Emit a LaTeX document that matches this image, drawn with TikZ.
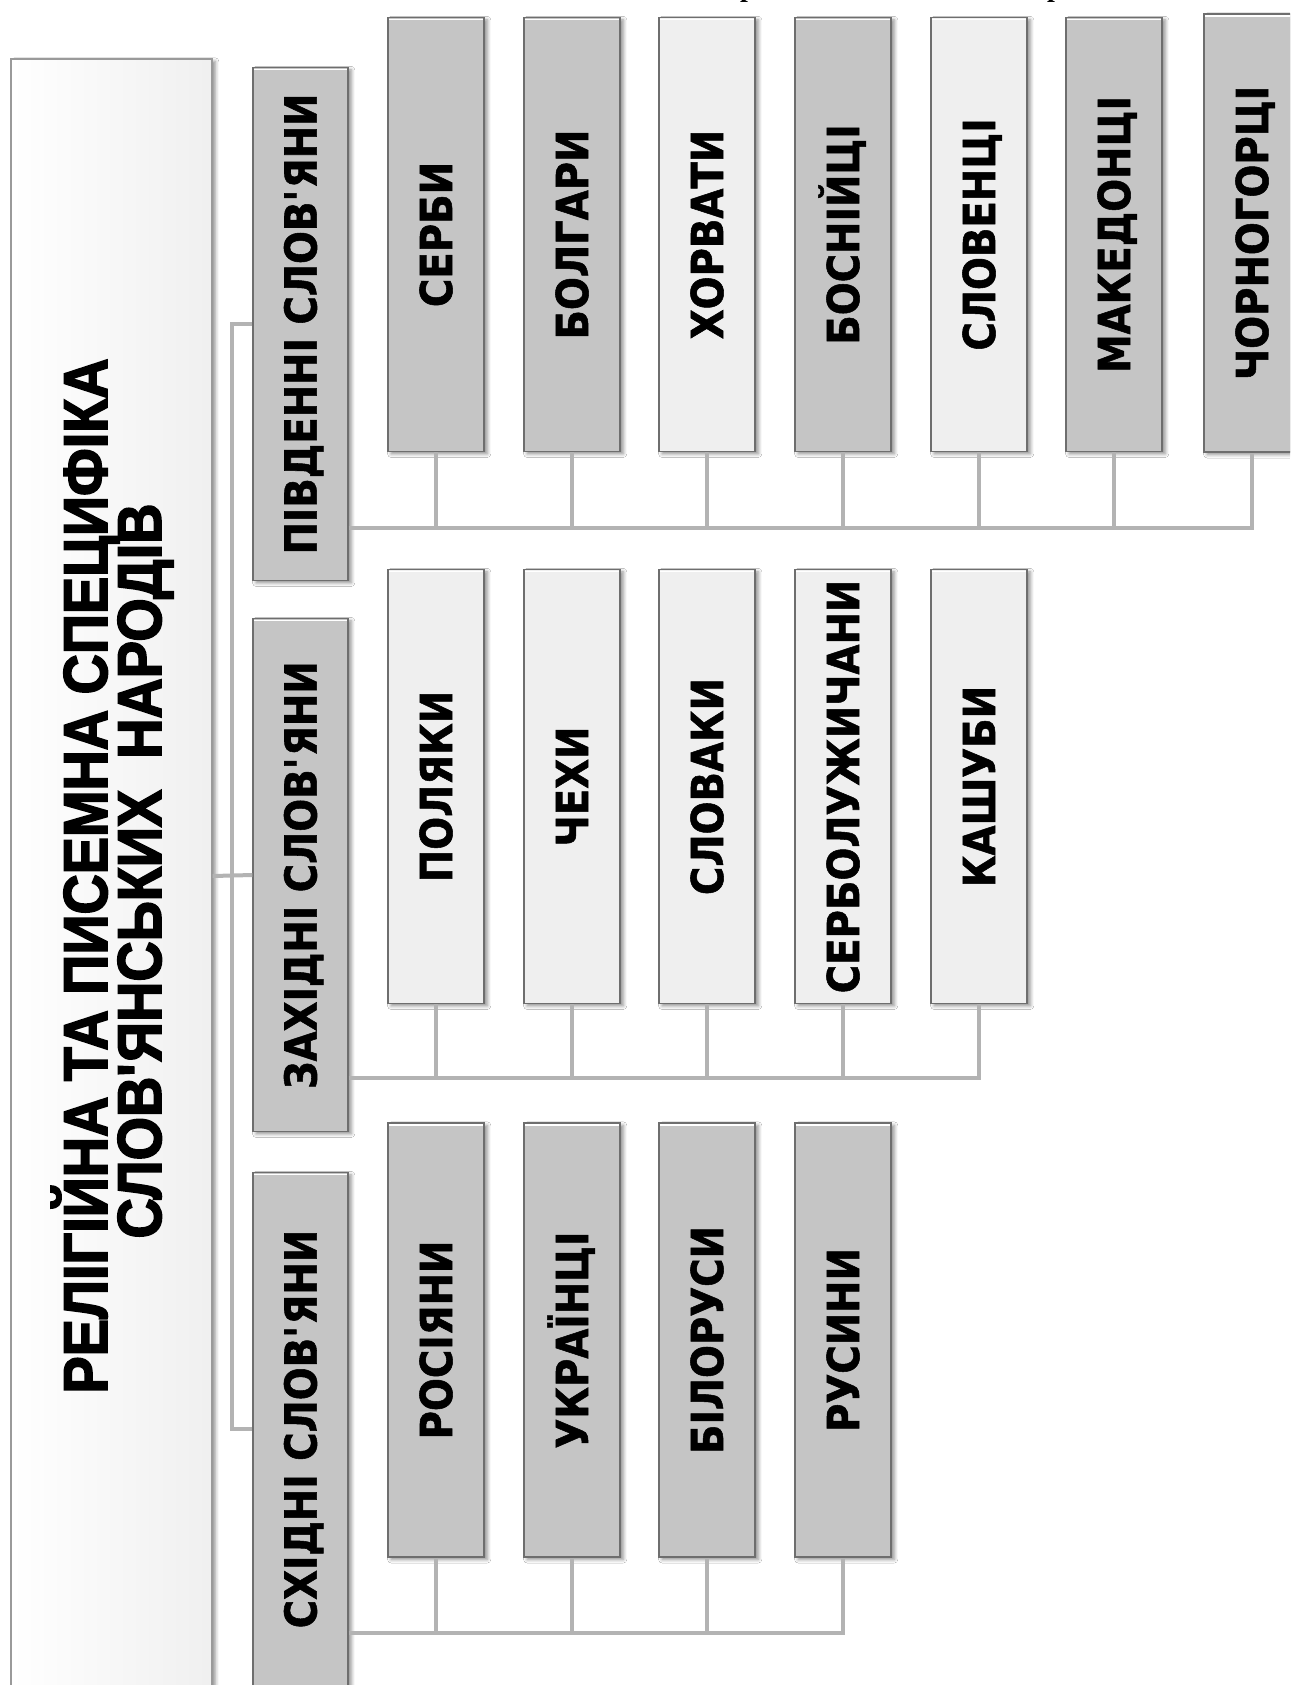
\documentclass[tikz,border=0pt]{standalone}
\usepackage{fontspec}
\usepackage{graphicx}
\newfontfamily\lblfont{DejaVu Sans}[FakeStretch=0.88, BoldFeatures={FakeBold=1.2}]
\newfontfamily\ttlfont{Liberation Sans}[FakeStretch=0.90, BoldFeatures={FakeBold=2.6}]
\newfontfamily\capfont{Liberation Serif}
\usetikzlibrary{shadows.blur}
\definecolor{boxdark}{HTML}{C5C5C5}
\definecolor{boxlight}{HTML}{EFEFEF}
\definecolor{boxedge}{HTML}{6E6E6E}
\definecolor{mainedge}{HTML}{9A9A9A}
\definecolor{linegray}{HTML}{B3B3B3}
\newcommand\vlbl[1]{\rotatebox{90}{\raisebox{0pt}[0.73em][0pt]{#1}}}
\tikzset{
  boxbase/.style={draw=boxedge, line width=0.6pt, inner sep=0pt,
    font=\lblfont\bfseries\fontsize{22}{26}\selectfont,
    blur shadow={shadow xshift=1.6pt, shadow yshift=-1.2pt, shadow blur radius=1.8pt, shadow opacity=45},
    path picture={\draw[white, line width=0.8pt] ([yshift=-1pt]path picture bounding box.north west) -- ([yshift=-1pt]path picture bounding box.north east);}},
  leafdark/.style={boxbase, fill=boxdark, minimum width=48pt, minimum height=217pt},
  leaflight/.style={boxbase, fill=boxlight, minimum width=48pt, minimum height=217pt},
  groupbox/.style={boxbase, fill=boxdark, minimum width=47.5pt, minimum height=256.5pt},
  mainbox/.style={draw=mainedge, line width=0.7pt, inner sep=0pt, shading=axis, left color=white, right color=black!6,
    minimum width=100.5pt, minimum height=817pt,
    blur shadow={shadow xshift=1.6pt, shadow yshift=-1.2pt, shadow blur radius=1.8pt, shadow opacity=45}},
  titletext/.style={rotate=90, anchor=base, inner sep=0pt, font=\ttlfont\bfseries\fontsize{31}{31}\selectfont},
  conn/.style={draw=linegray, line width=2pt},
  frag/.style={anchor=base, inner sep=0pt, font=\capfont\bfseries\fontsize{14}{14}\selectfont}
}
\begin{document}
\begin{tikzpicture}[x=0.5pt, y=-0.5pt]
\useasboundingbox (0,0) rectangle (1290,1685);
\clip (0,0) rectangle (1290,1685);
\fill[white] (0,0) rectangle (1290,1685);

% cut-off caption fragments at the top
\node[frag] (fr1) at (748,-3) {р};
\node[frag] (fr2) at (1055,-3) {р};

% main box and title
\node[mainbox] (main) at (111.5,876) {};
\node[titletext] (t1) at (107,876) {РЕЛІГІЙНА ТА ПИСЕМНА СПЕЦИФІКА};
\node[titletext] (t2) at (161,871) {СЛОВ\textquotesingle ЯНСЬКИХ\ \ НАРОДІВ};

% group boxes
\node[groupbox] (south) at (300.5,324) {\vlbl{ПІВДЕННІ СЛОВ\textquotesingle ЯНИ}};
\node[groupbox] (west) at (300.5,875) {\vlbl{ЗАХІДНІ СЛОВ\textquotesingle ЯНИ}};
\node[groupbox] (east) at (300.5,1429) {\vlbl{СХІДНІ СЛОВ\textquotesingle ЯНИ}};

% row 1: southern
\node[leafdark] (serby) at (436,234.5) {\vlbl{СЕРБИ}};
\node[leafdark] (bolh) at (572,234.5) {\vlbl{БОЛГАРИ}};
\node[leaflight] (khorv) at (707,234.5) {\vlbl{ХОРВАТИ}};
\node[leafdark] (bosn) at (843,234.5) {\vlbl{БОСНІЙЦІ}};
\node[leaflight] (slovn) at (979,234.5) {\vlbl{СЛОВЕНЦІ}};
\node[leafdark] (maked) at (1114,234.5) {\vlbl{МАКЕДОНЦІ}};
\node[leafdark, minimum height=219pt] (chor) at (1252,233) {\vlbl{ЧОРНОГОРЦІ}};

% row 2: western
\node[leaflight] (pol) at (436,786.5) {\vlbl{ПОЛЯКИ}};
\node[leaflight] (chekh) at (572,786.5) {\vlbl{ЧЕХИ}};
\node[leaflight] (slovk) at (707,786.5) {\vlbl{СЛОВАКИ}};
\node[leaflight] (luzh) at (843,786.5) {\vlbl{СЕРБОЛУЖИЧАНИ}};
\node[leaflight] (kash) at (979,786.5) {\vlbl{КАШУБИ}};

% row 3: eastern
\node[leafdark] (ros) at (436,1340) {\vlbl{РОСІЯНИ}};
\node[leafdark] (ukr) at (572,1340) {\vlbl{УКРАЇНЦІ}};
\node[leafdark] (bil) at (707,1340) {\vlbl{БІЛОРУСИ}};
\node[leafdark] (rus) at (843,1340) {\vlbl{РУСИНИ}};

% bus coordinates
\coordinate (b1) at (1252,528);
\coordinate (b2) at (979,1078);
\coordinate (b3) at (843,1633);
\coordinate (bx) at (232,875);

% main branch
\draw[conn] (main.east) -- (west.west);
\draw[conn] (south.west) -| (bx) |- (east.west);

% southern bus
\draw[conn] (south.east |- b1) -- (b1) -- (chor.south);
\foreach \n in {serby,bolh,khorv,bosn,slovn,maked}
  \draw[conn] (\n.south) -- (\n.south |- b1);

% western bus
\draw[conn] (west.east |- b2) -- (b2) -- (kash.south);
\foreach \n in {pol,chekh,slovk,luzh}
  \draw[conn] (\n.south) -- (\n.south |- b2);

% eastern bus
\draw[conn] (east.east |- b3) -- (b3) -- (rus.south);
\foreach \n in {ros,ukr,bil}
  \draw[conn] (\n.south) -- (\n.south |- b3);
\end{tikzpicture}
\end{document}
